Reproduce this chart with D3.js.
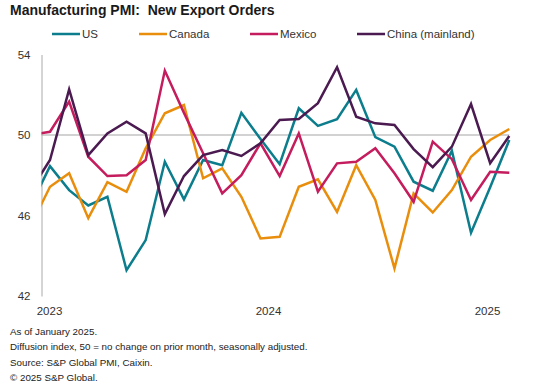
<!DOCTYPE html>
<html>
<head>
<meta charset="utf-8">
<script src="https://cdn.jsdelivr.net/npm/d3@7"></script>
<style>
  body { margin: 0; background: #fff; }
  svg { display: block; font-family: "Liberation Sans", Arial, sans-serif; }
</style>
</head>
<body>
<svg id="chart" width="546" height="392"></svg>
<script>
// months: Dec 2022 (cut off at the axis) .. Jan 2025
var months = ["2022-12", "2023-01", "2023-02", "2023-03", "2023-04", "2023-05", "2023-06",
  "2023-07", "2023-08", "2023-09", "2023-10", "2023-11", "2023-12",
  "2024-01", "2024-02", "2024-03", "2024-04", "2024-05", "2024-06",
  "2024-07", "2024-08", "2024-09", "2024-10", "2024-11", "2024-12", "2025-01"];

var usValues = [46.5, 48.45, 47.26, 46.5, 46.93, 43.28, 44.78, 48.67, 46.8, 48.76, 48.5, 51.1, 49.8,
  48.55, 51.33, 50.45, 50.78, 52.24, 49.89, 49.42, 47.68, 47.23, 49.22, 45.14, 47.4, 49.75];
var canadaValues = [45.5, 47.43, 48.1, 45.87, 47.66, 47.18, 49.34, 51.08, 51.49, 47.85, 48.34, 46.93, 44.86,
  44.94, 47.43, 47.8, 46.18, 48.5, 46.77, 43.37, 47.1, 46.15, 47.26, 48.92, 49.75, 50.3];
var mexicoValues = [50.0, 50.16, 51.66, 48.92, 47.96, 48.0, 48.76, 53.2, 51.1, 49.09, 47.1, 48.0, 49.59,
  47.96, 50.08, 47.18, 48.59, 48.67, 49.34, 48.1, 46.68, 49.67, 48.8, 46.77, 48.17, 48.12];
var chinaValues = [47.26, 48.76, 52.27, 49.0, 50.08, 50.66, 50.08, 46.07, 47.96, 49.0, 49.25, 48.96, 49.59,
  50.75, 50.8, 51.58, 53.37, 50.91, 50.58, 50.5, 49.3, 48.4, 49.42, 51.54, 48.6, 49.95];

var seriesNames = ["US", "Canada", "Mexico", "China (mainland)"];
var seriesColors = ["#0b7d8c", "#e98e0c", "#c41c5d", "#4b1a50"];
var yTicks = [42, 46, 50, 54];
var xLabels = ["2023", "2024", "2025"];

var title = "Manufacturing PMI:  New Export Orders";
var notes = ["As of January 2025.",
  "Diffusion index, 50 = no change on prior month, seasonally adjusted.",
  "Source: S&P Global PMI, Caixin.",
  "\u00a9 2025 S&P Global."];

var svg = d3.select("#chart");
var plotLeft = 41.5, plotRight = 520;

// month index -1 = Dec 2022, 0 = Jan 2023
var x = d3.scaleLinear().domain([0, 24]).range([50, 509.3]);
var y = d3.scaleLinear().domain([42, 54]).range([296, 54.5]);
var labelX = d3.scalePoint().domain(xLabels).range([49, 487]);

svg.append("text")
  .attr("x", 10).attr("y", 15)
  .attr("font-size", 14).attr("font-weight", "bold").attr("fill", "#1a1a1a")
  .style("white-space", "pre")
  .text(title);

// legend
var legendX = [52, 139, 250, 357];
var legend = svg.append("g").selectAll("g")
  .data(seriesNames).enter().append("g")
  .attr("transform", function (d, i) { return "translate(" + legendX[i] + ",34)"; });
legend.append("line")
  .attr("x1", 0).attr("x2", 28)
  .attr("stroke", function (d, i) { return seriesColors[i]; })
  .attr("stroke-width", 2.5);
legend.append("text")
  .attr("x", 30).attr("dy", "0.35em")
  .attr("font-size", 11.5).attr("fill", "#333")
  .text(function (d) { return d; });

// y axis
var yAxis = svg.append("g")
  .attr("transform", "translate(" + plotLeft + ",0)")
  .call(d3.axisLeft(y).tickValues(yTicks).tickSize(0).tickPadding(11));
yAxis.select(".domain").attr("stroke", "#aaa");
yAxis.selectAll("text").attr("font-size", 11.5).attr("fill", "#333").attr("font-family", null);

// x labels
var xAxis = svg.append("g")
  .attr("transform", "translate(0,301)")
  .call(d3.axisBottom(labelX).tickSize(0).tickPadding(6));
xAxis.select(".domain").remove();
xAxis.selectAll("text").attr("font-size", 11.5).attr("fill", "#333").attr("font-family", null);

// 50 line
svg.append("line")
  .attr("x1", plotLeft).attr("x2", x(24))
  .attr("y1", y(50)).attr("y2", y(50))
  .attr("stroke", "#a6a6a6").attr("stroke-width", 1.2);

svg.append("clipPath").attr("id", "plotClip")
  .append("rect").attr("x", plotLeft).attr("y", 0)
  .attr("width", plotRight - plotLeft).attr("height", 392);

var allValues = [usValues, canadaValues, mexicoValues, chinaValues];
var line = d3.line()
  .x(function (d, i) { return x(i - 1); })
  .y(function (d) { return y(d); });

svg.append("g").attr("clip-path", "url(#plotClip)")
  .selectAll("path").data(allValues).enter().append("path")
  .attr("d", line)
  .attr("fill", "none")
  .attr("stroke", function (d, i) { return seriesColors[i]; })
  .attr("stroke-width", 2.5)
  .attr("stroke-linejoin", "miter");

svg.append("g").selectAll("text")
  .data(notes).enter().append("text")
  .attr("x", 10)
  .attr("y", function (d, i) { return 335 + i * 15.3; })
  .attr("font-size", 9.8).attr("fill", "#222")
  .text(function (d) { return d; });
</script>
</body>
</html>
